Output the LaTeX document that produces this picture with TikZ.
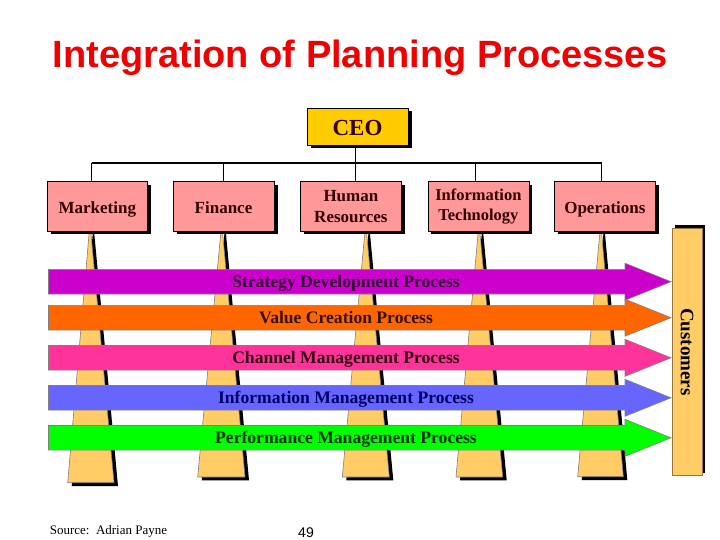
\documentclass[tikz,border=0pt]{standalone}
\usepackage{fontspec}
\setmainfont{Liberation Serif}
\newfontfamily\arialfont{Liberation Sans}
\usetikzlibrary{shadows}
\definecolor{titlered}{RGB}{240,0,0}
\definecolor{boxpink}{RGB}{255,153,153}
\definecolor{ceogold}{RGB}{255,204,0}
\definecolor{pillar}{RGB}{255,204,102}
\definecolor{boxtext}{RGB}{51,0,0}
\definecolor{cpurple}{RGB}{204,0,204}
\definecolor{corange}{RGB}{255,102,0}
\definecolor{cpink}{RGB}{255,51,153}
\definecolor{cblue}{RGB}{102,102,255}
\definecolor{cgreen}{RGB}{0,255,0}
\definecolor{tpurple}{RGB}{51,0,51}
\definecolor{torange}{RGB}{51,17,0}
\definecolor{tpink}{RGB}{51,0,17}
\definecolor{tblue}{RGB}{0,0,102}
\definecolor{tgreen}{RGB}{0,51,0}
\begin{document}
\begin{tikzpicture}[x=1pt,y=-1pt,
  shadowed/.style={drop shadow={shadow xshift=3.5pt,shadow yshift=-3.5pt,opacity=1,fill=black}},
  orgbox/.style={shadowed,draw=black,line width=0.6pt,fill=boxpink,minimum width=100pt,
    minimum height=49.3pt,inner sep=0pt,align=center,text=boxtext,
    font=\bfseries\fontsize{17}{21}\selectfont},
  oneline/.style={text height=17pt,text depth=3pt},
  ceobox/.style={orgbox,fill=ceogold,minimum width=101pt,minimum height=37pt,
    font=\bfseries\fontsize{23}{26}\selectfont,text height=20pt,text depth=2pt},
  bus/.style={draw=black,line width=1.8pt},
  drop/.style={draw=black,line width=1pt},
  pillarshape/.style={fill=pillar,draw=gray,line width=0.6pt},
  arrowshape/.style={draw=gray,line width=0.6pt},
  arrowtext/.style={font=\bfseries\fontsize{17.6}{20}\selectfont,inner sep=0pt,
    text height=12pt,text depth=0pt},
  custbar/.style={fill=pillar,draw={rgb,255:red,150;green,120;blue,60},line width=0.6pt}
]
\useasboundingbox (0,0) rectangle (720,540);
\fill[white] (0,0) rectangle (720,540);

% title
\node[anchor=base,text=titlered,font=\arialfont\bfseries\fontsize{38}{40}\selectfont,inner sep=0pt]
  (title) at (360,68) {Integration of Planning Processes};

% pillars
\foreach \a/\l/\r/\b [count=\i] in {90/67.7/114/482.7, 221.7/197.7/245/477, 365.7/342.3/389.3/477, 479/456/502.7/477, 600.7/577.7/623.3/476.7}{
  \fill[black] (\a+2.7,234) -- (\a+4.3,234) -- (\r+4,\b+3.3) -- (\l+4,\b+3.3) -- cycle;
  \path[pillarshape] (\a-0.8,232) -- (\a+0.8,232) -- (\r,\b) -- (\l,\b) -- cycle;
}

% customers bar
\fill[black] (674.5,225.5) rectangle (704.5,473);
\path[custbar] (672,228) rectangle (702,475.7);
\node[rotate=-90,font=\bfseries\fontsize{19}{20}\selectfont,inner sep=0pt] (cust) at (687,352) {Customers};

% process arrows
\foreach \c/\col/\tcol/\txt [count=\i] in {
  281.7/cpurple/tpurple/Strategy Development Process,
  317.7/corange/torange/Value Creation Process,
  357.8/cpink/tpink/Channel Management Process,
  397.8/cblue/tblue/Information Management Process,
  437.8/cgreen/tgreen/Performance Management Process}{
  \path[arrowshape,fill=\col] (48.5,\c-12.3) -- (625,\c-12.3) -- (625,\c-18.5) -- (671,\c)
     -- (625,\c+18.5) -- (625,\c+12.3) -- (48.5,\c+12.3) -- cycle;
  \node[arrowtext,text=\tcol] (proc\i) at (346,\c-0.5) {\txt};
}

% org chart
\node[ceobox] (ceo) at (357.5,126.5) {CEO};
\node[orgbox,oneline] (mkt) at (97.3,206.3) {Marketing};
\node[orgbox,oneline,minimum width=101pt] (fin) at (223.5,206.3) {Finance};
\node[orgbox,minimum width=101pt] (hr) at (350.9,206.3) {Human\\Resources};
\node[orgbox,minimum width=101pt,font=\bfseries\fontsize{16.5}{20}\selectfont] (it) at (478.4,206.3) {Information\\Technology};
\node[orgbox,oneline,minimum width=101.5pt] (ops) at (604.9,206.3) {Operations};

\coordinate (j1) at (91.7,162.7);
\coordinate (j2) at (223,162.7);
\coordinate (j3) at (355.7,162.7);
\coordinate (j4) at (475.7,162.7);
\coordinate (j5) at (601.7,162.7);

\draw[bus] (j1) -- (j5);
\draw[drop] (j3 |- ceo.south) -- (j3);
\draw[drop] (j1) -- (j1 |- mkt.north);
\draw[drop] (j2) -- (j2 |- fin.north);
\draw[drop] (j3) -- (j3 |- hr.north);
\draw[drop] (j4) -- (j4 |- it.north);
\draw[drop] (j5) -- (j5 |- ops.north);

% footer
\node[anchor=base west,inner sep=0pt,font=\fontsize{13}{15}\selectfont] (src) at (49.6,534) {Source:\ \ Adrian Payne};
\node[anchor=base,inner sep=0pt,font=\arialfont\fontsize{14}{16}\selectfont] (pg) at (306,537) {49};
\end{tikzpicture}
\end{document}
